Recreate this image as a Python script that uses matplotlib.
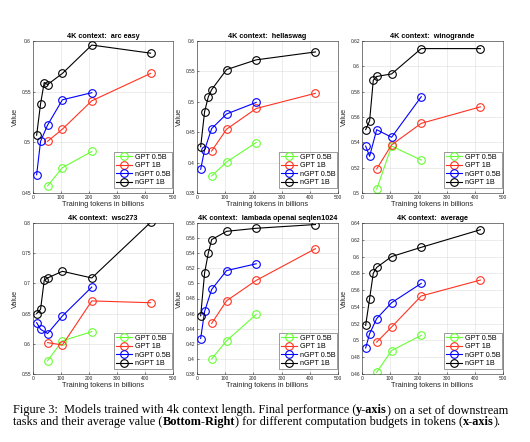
import matplotlib
matplotlib.use("Agg")
import matplotlib.pyplot as plt

plt.rcParams['font.family'] = ['Liberation Sans', 'DejaVu Sans']

# ---------------- data ----------------
x_gpt05 = [52, 105, 210]
x_gpt1 = [52, 105, 210, 420]
x_ngpt05 = [13, 27, 52, 105, 210]
x_ngpt1 = [13, 27, 40, 52, 105, 210, 420]

titles = ["4K context:  arc easy", "4K context:  hellaswag", "4K context:  winogrande",
          "4K context:  wsc273", "4K context:  lambada openai seqlen1024", "4K context:  average"]

gpt05 = [
    [0.457, 0.475, 0.491],
    [0.378, 0.401, 0.433],
    [0.503, 0.537, 0.526],
    [0.572, 0.605, 0.620],
    [0.400, 0.424, 0.459],
    [0.462, 0.488, 0.506],
]
gpt1 = [
    [0.501, 0.513, 0.541, 0.568],
    [0.419, 0.455, 0.489, 0.514],
    [0.519, 0.538, 0.555, 0.568],
    [0.602, 0.598, 0.671, 0.668],
    [0.447, 0.477, 0.504, 0.546],
    [0.498, 0.516, 0.553, 0.572],
]
ngpt05 = [
    [0.468, 0.501, 0.517, 0.542, 0.549],
    [0.389, 0.421, 0.456, 0.480, 0.499],
    [0.537, 0.529, 0.550, 0.544, 0.576],
    [0.635, 0.624, 0.617, 0.646, 0.694],
    [0.427, 0.463, 0.492, 0.517, 0.526],
    [0.491, 0.508, 0.526, 0.545, 0.568],
]
ngpt1 = [
    [0.507, 0.538, 0.559, 0.557, 0.568, 0.596, 0.588],
    [0.426, 0.484, 0.508, 0.520, 0.553, 0.569, 0.582],
    [0.550, 0.557, 0.589, 0.592, 0.594, 0.614, 0.614],
    [0.650, 0.657, 0.705, 0.709, 0.720, 0.709, 0.801],
    [0.457, 0.514, 0.540, 0.558, 0.569, 0.573, 0.578],
    [0.518, 0.550, 0.580, 0.587, 0.600, 0.611, 0.632],
]
ylims = [(0.45, 0.6), (0.35, 0.6), (0.5, 0.62), (0.55, 0.8), (0.38, 0.58), (0.46, 0.64)]
ysteps = [0.05, 0.05, 0.02, 0.05, 0.02, 0.02]
yticklabels = [
    ["0.45", "0.5", "0.55", "0.6"],
    ["0.35", "0.4", "0.45", "0.5", "0.55", "0.6"],
    ["0.5", "0.52", "0.54", "0.56", "0.58", "0.6", "0.62"],
    ["0.55", "0.6", "0.65", "0.7", "0.75", "0.8"],
    ["0.38", "0.4", "0.42", "0.44", "0.46", "0.48", "0.5", "0.52", "0.54", "0.56", "0.58"],
    ["0.46", "0.48", "0.5", "0.52", "0.54", "0.56", "0.58", "0.6", "0.62", "0.64"],
]
xticks = [0, 100, 200, 300, 400, 500]
series_names = ["GPT 0.5B", "GPT 1B", "nGPT 0.5B", "nGPT 1B"]
colors = ["#66ff33", "#ff3322", "#0000ff", "#000000"]

# ---------------- figure ----------------
W, H = 530, 442
fig = plt.figure(figsize=(W / 100, H / 100), dpi=100)

col_px = [(33, 173), (197, 338), (362, 503)]
row_px = [(41, 193), (223, 374)]

for i in range(6):
    r, c = divmod(i, 3)
    x0, x1 = col_px[c]
    y0, y1 = row_px[r]
    ax = fig.add_axes([x0 / W, 1 - y1 / H, (x1 - x0) / W, (y1 - y0) / H])
    data = [(x_gpt05, gpt05[i]), (x_gpt1, gpt1[i]), (x_ngpt05, ngpt05[i]), (x_ngpt1, ngpt1[i])]
    for (xs, ys), name, col in zip(data, series_names, colors):
        ax.plot(xs, ys, '-o', color=col, mfc='none', mec=col, ms=5.5, mew=0.8, lw=0.8, label=name)
    ax.set_xlim(0, 500)
    ax.set_ylim(*ylims[i])
    lo, hi = ylims[i]
    n = len(yticklabels[i])
    ax.set_yticks([lo + k * ysteps[i] for k in range(n)])
    ax.set_yticklabels(yticklabels[i])
    ax.set_xticks(xticks)
    ax.tick_params(direction='in', length=1.5, width=0.4, labelsize=3.5, colors='#262626', pad=1.5)
    ax.grid(True, color='#dddddd', lw=0.4)
    ax.set_axisbelow(True)
    for s in ax.spines.values():
        s.set_linewidth(0.4)
        s.set_color('#262626')
    ax.set_title(titles[i], fontsize=5.2, fontweight='bold', pad=1.8)
    ax.set_xlabel("Training tokens in billions", fontsize=5.3, color='#262626', labelpad=1)
    ax.set_ylabel("Value", fontsize=5.3, color='#262626', labelpad=1.5)
    leg = ax.legend(loc='lower right', bbox_to_anchor=(0.995, 0.03), fontsize=5.2, frameon=True,
                    fancybox=False, edgecolor='#262626', borderaxespad=0.0, handlelength=2.2,
                    labelspacing=0.2, borderpad=0.3, handletextpad=0.3)
    leg.get_frame().set_linewidth(0.4)

# ---------------- caption ----------------
fig.canvas.draw()
renderer = fig.canvas.get_renderer()

def draw_pieces(pieces, x_px, y_px, size):
    x = x_px
    for txt, bold in pieces:
        t = fig.text(x / W, 1 - y_px / H, txt, fontsize=size, family='Liberation Serif',
                     fontweight='bold' if bold else 'normal', va='center', ha='left')
        bb = t.get_window_extent(renderer=renderer)
        x += bb.width

cap1 = [("Figure 3:  Models trained with 4k context length. Final performance (", False),
        ("y-axis", True), (") on a set of downstream", False)]
cap2 = [("tasks and their average value (", False), ("Bottom-Right", True),
        (") for different computation budgets in tokens (", False), ("x-axis", True), (").", False)]
draw_pieces(cap1, 13, 410, 8.8)
draw_pieces(cap2, 13, 422, 8.8)

fig.savefig("out.png", dpi=100)
